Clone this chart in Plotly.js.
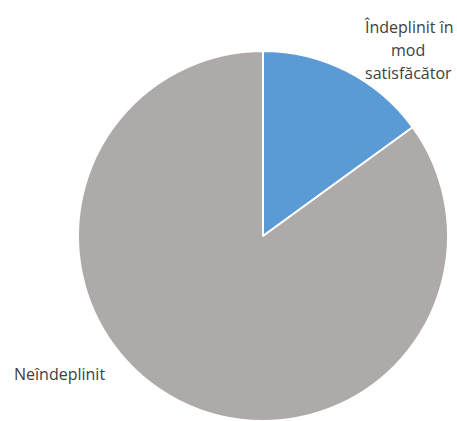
<!DOCTYPE html>
<html>
<head>
<meta charset="utf-8">
<script src="https://cdn.plot.ly/plotly-3.0.1.min.js"></script>
<style>html,body{margin:0;padding:0;background:#fff;}#chart{width:457px;height:421px;}</style>
</head>
<body>
<div id="chart"></div>
<script>
const labels = ["Îndeplinit în mod satisfăcător", "Neîndeplinit"];
const values = [15, 85];
const colors = ["#5B9BD5", "#AEAAAA"];
const labelLines0 = ["Îndeplinit în", "mod", "satisfăcător"];
const labelLines1 = ["Neîndeplinit"];

const W = 457, H = 421;
const data = [{
  type: "pie",
  labels: labels,
  values: values,
  sort: false,
  direction: "clockwise",
  rotation: 0,
  textinfo: "none",
  hoverinfo: "label+percent",
  marker: {colors: colors, line: {color: "#ffffff", width: 2}},
  domain: {x: [77 / W, 449 / W], y: [0, 370 / H]},
  showlegend: false
}];
const font = {family: "Open Sans, Noto Sans, sans-serif", size: 16, color: "#404040"};
const lineY0 = [27, 50, 73];
const annotations = labelLines0.map((t, i) => ({
  text: t, xref: "paper", yref: "paper", x: 408 / W, y: 1 - lineY0[i] / H,
  xanchor: "center", yanchor: "middle", showarrow: false, font: font
}));
annotations.push({
  text: labelLines1[0], xref: "paper", yref: "paper", x: 12 / W, y: 1 - 374 / H,
  xanchor: "left", yanchor: "middle", showarrow: false, font: font
});
const layout = {
  width: W, height: H,
  margin: {l: 0, r: 0, t: 0, b: 0},
  paper_bgcolor: "#ffffff",
  showlegend: false,
  annotations: annotations
};
Plotly.newPlot("chart", data, layout, {displayModeBar: false, staticPlot: true});
</script>
</body>
</html>
